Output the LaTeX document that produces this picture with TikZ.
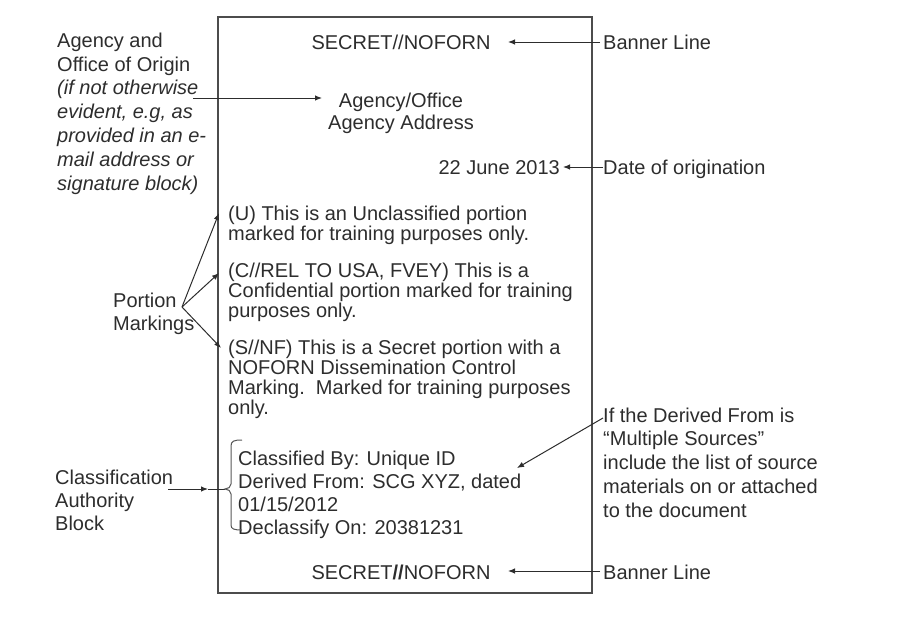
\documentclass[tikz,border=0pt]{standalone}
\usepackage{fontspec}
\setmainfont{Liberation Sans}
\usetikzlibrary{arrows.meta}
\definecolor{ink}{RGB}{45,45,45}
\begin{document}
\begin{tikzpicture}[x=1pt,y=-1pt,
  txt/.style={inner sep=0pt, text=ink, font=\fontsize{20}{23}\selectfont},
  para/.style={txt, align=left, anchor=north west, font=\fontsize{20}{20}\selectfont},
  block/.style={txt, align=left, anchor=north west},
  arr/.style={draw=ink, line width=1pt, -{Latex[length=7pt,width=5.5pt]}},
  plain/.style={draw=ink, line width=1pt}]
\useasboundingbox (0,0) rectangle (897,622);
% document page
\draw[draw=ink!85, line width=1.2pt] (218,17) rectangle (592,593);
% centre texts
\node[txt, anchor=base] (ban1) at (401,49) {SECRET//NOFORN};
\node[txt, anchor=north, align=center, font=\fontsize{20}{22}\selectfont] (agency) at (401,92.5) {Agency/Office\\Agency Address};
\node[txt, anchor=base east] (date) at (560,174) {22 June 2013};
\node[para] (p1) at (228,205.4) {(U) This is an Unclassified portion\\marked for training purposes only.};
\node[para] (p2) at (228,262.4) {(C//REL TO USA, FVEY) This is a\\Confidential portion marked for training\\purposes only.};
\node[para] (p3) at (228,339.4) {(S//NF) This is a Secret portion with a\\NOFORN Dissemination Control\\Marking.\ \ Marked for training purposes\\only.};
\node[block] (cab) at (238,450.5) {Classified By: Unique ID\\Derived From: SCG XYZ, dated\\01/15/2012\\Declassify On: 20381231};
\node[txt, anchor=base] (ban2) at (401,579) {SECRET\textbf{//}NOFORN};
% left labels
\node[block, font=\fontsize{20}{23.8}\selectfont] (origin) at (57,32.7) {Agency and\\Office of Origin\\\textit{(if not otherwise}\\\textit{evident, e.g, as}\\\textit{provided in an e-}\\\textit{mail address or}\\\textit{signature block)}};
\node[block] (pm) at (113,292.7) {Portion\\Markings};
\node[block] (cabl) at (55,469.7) {Classification\\Authority\\Block};
% right labels
\node[txt, anchor=base west] (bl1) at (603,49) {Banner Line};
\node[txt, anchor=base west] (dor) at (603,174) {Date of origination};
\node[block, font=\fontsize{20}{23.7}\selectfont] (multi) at (603,407.5) {If the Derived From is\\``Multiple Sources''\\include the list of source\\materials on or attached\\to the document};
\node[txt, anchor=base west] (bl2) at (603,579) {Banner Line};
% connector end points
\coordinate (b1s) at (600,42);   \coordinate (b1e) at (508,42);
\coordinate (ags) at (193,98);   \coordinate (age) at (322,98);
\coordinate (dts) at (603,167);  \coordinate (dte) at (563,167);
\coordinate (pmo) at (182,307);
\coordinate (pe1) at (219,213);  \coordinate (pe2) at (219,273);  \coordinate (pe3) at (221,348);
\coordinate (cls) at (168,489);  \coordinate (cle) at (208,489);  \coordinate (brt) at (225,489);
\coordinate (mus) at (603,418);  \coordinate (mue) at (517,468);
\coordinate (b2s) at (600,571);  \coordinate (b2e) at (508,571);
% connectors
\draw[arr] (b1s) -- (b1e);
\draw[arr] (ags) -- (age);
\draw[arr] (dts) -- (dte);
\draw[arr] (pmo) -- (pe1);
\draw[arr] (pmo) -- (pe2);
\draw[arr] (pmo) -- (pe3);
\draw[arr] (cls) -- (cle);
\draw[plain] (cle) -- (brt);
\draw[arr] (mus) -- (mue);
\draw[arr] (b2s) -- (b2e);
% bracket round the classification authority block
\draw[draw=ink!80, line width=1pt] (242,440) .. controls (234,440) and (231,441) .. (231,446)
  -- (231,484) .. controls (231,487) and (228,489) .. (brt)
  .. controls (228,489) and (231,491) .. (231,494)
  -- (231,525) .. controls (231,529) and (234,530) .. (242,530);
\end{tikzpicture}
\end{document}
